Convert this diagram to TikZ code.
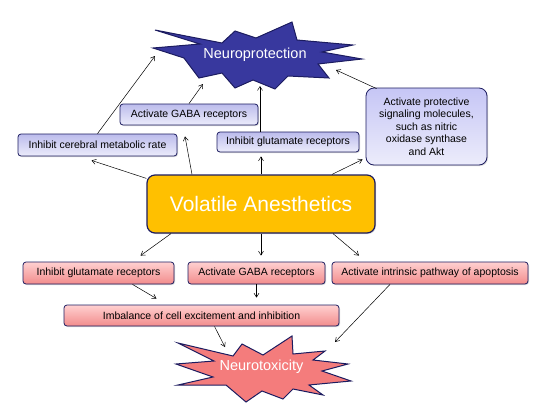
\documentclass[tikz,border=0pt]{standalone}
\usepackage{fontspec}
\setmainfont{Liberation Sans}
\usetikzlibrary{arrows.meta,shadows}

\definecolor{navyline}{RGB}{28,28,96}
\definecolor{npfill}{RGB}{56,56,158}
\definecolor{ntfill}{RGB}{244,124,124}
\definecolor{vafill}{RGB}{255,192,0}
\definecolor{bluetop}{RGB}{188,188,236}
\definecolor{bluebot}{RGB}{236,236,251}
\definecolor{redtop}{RGB}{255,208,208}
\definecolor{redbot}{RGB}{242,140,140}

\begin{document}
\begin{tikzpicture}[x=1pt, y=-1pt,
    box/.style={draw=navyline, line width=0.8pt, rounded corners=3pt, inner sep=0pt,
        font=\fontsize{10.5}{12.6}\selectfont,
        drop shadow={shadow xshift=1pt, shadow yshift=-1pt, opacity=0.3}},
    bluebox/.style={box, top color=bluetop, bottom color=bluebot},
    redbox/.style={box, top color=redtop, bottom color=redbot},
    arr/.style={line width=0.5pt, -{Straight Barb[length=4pt,width=5pt]}},
    starline/.style={draw=navyline, line width=1pt, line join=miter},
    startext/.style={text=white, font=\fontsize{14.5}{16}\selectfont}]

            \useasboundingbox (0,0) rectangle (550,413);

            % stars
            \draw[starline, fill=npfill] (155,30) -- (200,44) -- (153,48) -- (184,58) -- (199,78) -- (222,73)
                -- (235,88) -- (253,80) -- (275,89) -- (288,76) -- (329,78) -- (318,64) -- (362,59) -- (322,52)
                -- (353,45) -- (297,40) -- (292,22) -- (256,38) -- (235,31) -- (222,43) -- cycle;
            \node[startext] (np) at (255,55) {Neuroprotection};

            \draw[starline, fill=ntfill] (178,343) -- (233,356) -- (242,344) -- (263,355) -- (292,336) -- (293,354)
                -- (325,351) -- (313,360) -- (348,364) -- (322,371) -- (351,381) -- (309,385) -- (323,395)
                -- (293,389) -- (283,399) -- (262,391) -- (246,402) -- (226,385) -- (178,385) -- (213,377)
                -- (176,364) -- (214,361) -- cycle;
            \node[startext] (nt) at (261.5,367) {Neurotoxicity};

            % boxes
            \node[bluebox, minimum width=159pt, minimum height=22pt] (cereb) at (97.5,145) {Inhibit cerebral metabolic rate};
            \node[bluebox, minimum width=138pt, minimum height=21pt] (gabaT) at (189,114.5) {Activate GABA receptors};
            \node[bluebox, minimum width=142pt, minimum height=20pt] (glutT) at (288,142) {Inhibit glutamate receptors};
            \node[bluebox, rounded corners=8pt, minimum width=121pt, minimum height=77pt, align=center,
                top color=bluetop!85!blue!60, bottom color=bluebot] (protect) at (426.5,126.5)
                {Activate protective\\signaling molecules,\\such as nitric\\oxidase synthase\\and Akt};

            \node[box, fill=vafill, line width=1.2pt, rounded corners=8pt, minimum width=228pt, minimum height=58pt,
                text=white, font=\fontsize{21}{24}\selectfont] (va) at (261,204) {Volatile Anesthetics};

            \node[redbox, minimum width=151pt, minimum height=22pt] (glutB) at (98.5,273) {Inhibit glutamate receptors};
            \node[redbox, minimum width=137pt, minimum height=22pt] (gabaB) at (256.5,273) {Activate GABA receptors};
            \node[redbox, minimum width=196pt, minimum height=22pt] (apop) at (430,273) {Activate intrinsic pathway of apoptosis};
            \node[redbox, minimum width=275pt, minimum height=21pt] (imbal) at (201.5,315.5) {Imbalance of cell excitement and inhibition};

            % free arrow ends at the stars
            \coordinate (np-a) at (155,56);
            \coordinate (np-b) at (203,84);
            \coordinate (np-c) at (260,86);
            \coordinate (np-d) at (336,70);
            \coordinate (nt-a) at (225,347);
            \coordinate (nt-b) at (335,342);

            % arrows, upper half
            \draw[arr] ([yshift=-4pt]va.north west) -- ([xshift=-6pt,yshift=-4pt]cereb.south);
            \draw[arr] ([xshift=-69pt]va.north) -- ([xshift=-4pt,yshift=-11pt]gabaT.south);
            \draw[arr, shorten >=4pt] (va.north) -- (va.north |- glutT.south);
            \draw[arr] ([xshift=71pt]va.north) -- ([xshift=-3pt,yshift=6pt]protect.south west);

            \draw[arr] (cereb.north) -- (np-a);
            \draw[arr] (gabaT.north) -- (np-b);
            \draw[arr] (np-c |- glutT.north) -- (np-c);
            \draw[arr] ([xshift=11pt,yshift=-1pt]protect.north west) -- (np-d);

            % arrows, lower half
            \draw[arr] ([xshift=-90pt]va.south) -- ([xshift=42pt,yshift=6pt]glutB.north);
            \draw[arr, shorten >=6pt] (va.south) -- (va.south |- gabaB.north);
            \draw[arr] ([xshift=72pt]va.south) -- ([xshift=-71pt,yshift=6pt]apop.north);

            \draw[arr] ([xshift=34pt]glutB.south) -- ([xshift=-45pt,yshift=6pt]imbal.north);
            \draw[arr, shorten >=7pt] (gabaB.south) -- (gabaB.south |- imbal.north);
            \draw[arr] ([xshift=-40pt]apop.south) -- (nt-b);
            \draw[arr] ([xshift=13pt]imbal.south) -- (nt-a);
        \end{tikzpicture}
\end{document}
